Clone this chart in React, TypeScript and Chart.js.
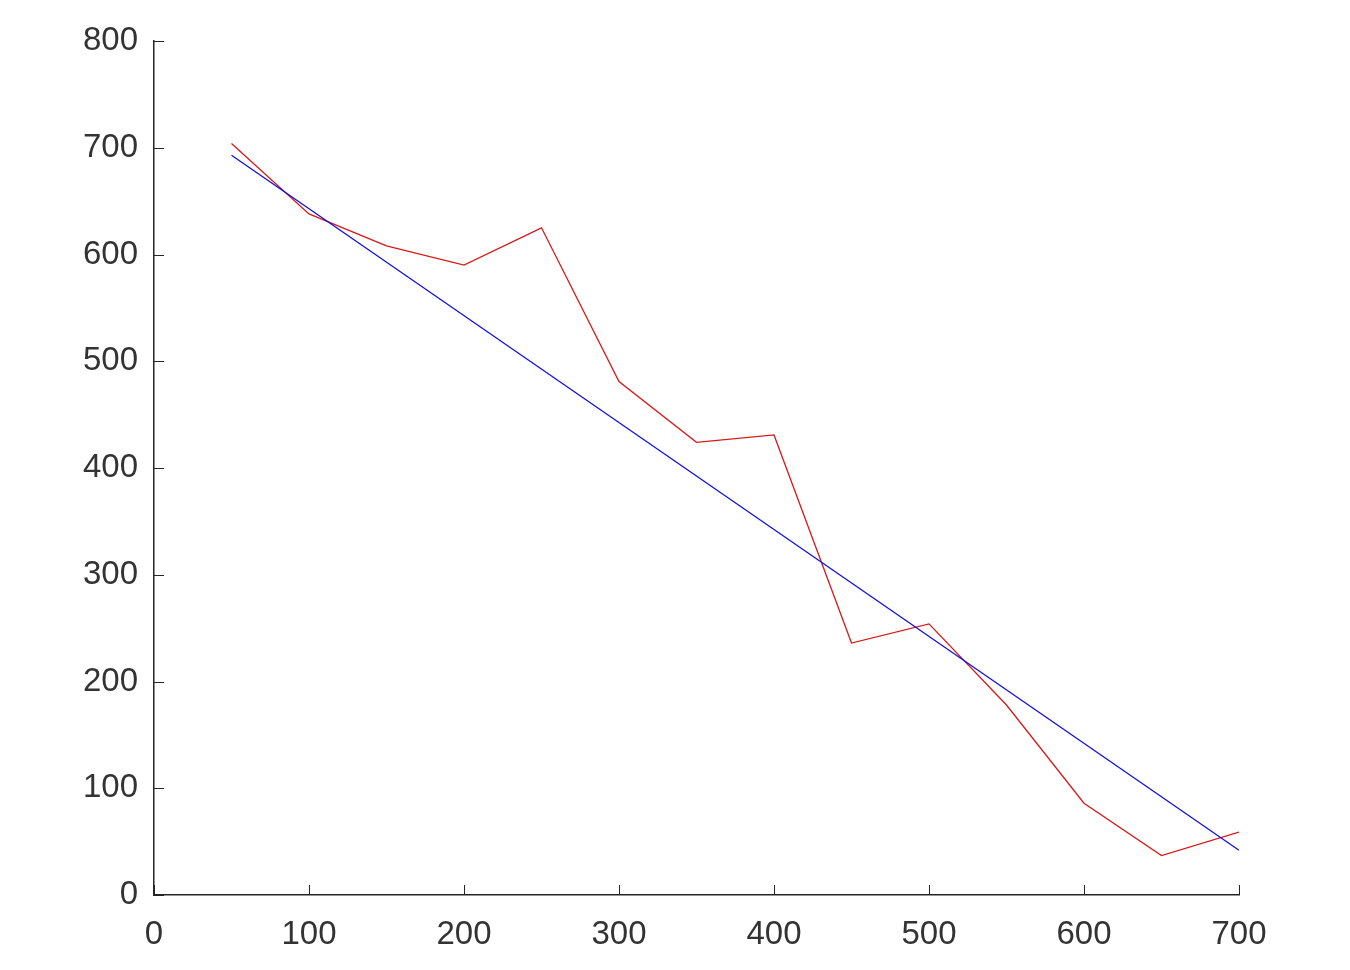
import React, { useEffect, useRef } from "react";
import { Chart, registerables } from "chart.js";

Chart.register(...registerables);

const xValues = [50, 100, 150, 200, 250, 300, 350, 400, 450, 500, 550, 600, 650, 700];
const measured = [704, 638, 608, 590, 625, 481, 424, 431, 236, 254, 178, 86, 37, 59];
const fitX = [50, 700];
const fitY = [693, 42];
const xTicks = [0, 100, 200, 300, 400, 500, 600, 700];
const yTicks = [0, 100, 200, 300, 400, 500, 600, 700, 800];

const AXIS = "#262626";
const LABEL = "#333333";
const FONT = "'Liberation Sans', Arial, Helvetica, sans-serif";

const inwardTicks = {
  id: "inwardTicks",
  afterDraw(chart: any) {
    const { ctx, chartArea, scales } = chart;
    const len = 10;
    ctx.save();
    ctx.strokeStyle = AXIS;
    ctx.lineWidth = 1;
    ctx.beginPath();
    xTicks.forEach((v) => {
      const px = Math.round(scales.x.getPixelForValue(v)) + 0.5;
      ctx.moveTo(px, chartArea.bottom);
      ctx.lineTo(px, chartArea.bottom - len);
    });
    yTicks.forEach((v) => {
      const py = Math.round(scales.y.getPixelForValue(v)) + 0.5;
      ctx.moveTo(chartArea.left, py);
      ctx.lineTo(chartArea.left + len, py);
    });
    ctx.stroke();
    ctx.restore();
  },
};

export default function App() {
  const ref = useRef<HTMLCanvasElement | null>(null);
  useEffect(() => {
    if (!ref.current) return;
    const chart = new Chart(ref.current, {
      type: "line",
      data: {
        datasets: [
          {
            label: "fit",
            data: fitX.map((x, i) => ({ x, y: fitY[i] })),
            borderColor: "#1010e0",
            borderWidth: 1.3,
            pointRadius: 0,
            tension: 0,
          },
          {
            label: "data",
            data: xValues.map((x, i) => ({ x, y: measured[i] })),
            borderColor: "#d81818",
            borderWidth: 1.3,
            pointRadius: 0,
            tension: 0,
          },
        ],
      },
      options: {
        animation: false,
        responsive: false,
        events: [],
        layout: { padding: { left: 0, top: 41, right: 111, bottom: 0 } },
        plugins: { legend: { display: false }, tooltip: { enabled: false } },
        scales: {
          x: {
            type: "linear",
            min: 0,
            max: 700,
            afterBuildTicks: (s: any) => {
              s.ticks = xTicks.map((v) => ({ value: v }));
            },
            afterFit: (s: any) => {
              s.height = 75;
            },
            grid: { display: true, drawOnChartArea: false, drawTicks: false },
            border: { display: true, color: AXIS, width: 1.5 },
            ticks: {
              color: LABEL,
              padding: 20,
              maxRotation: 0,
              autoSkip: false,
              font: { family: FONT, size: 33 },
            },
          },
          y: {
            type: "linear",
            min: 0,
            max: 800,
            afterBuildTicks: (s: any) => {
              s.ticks = yTicks.map((v) => ({ value: v }));
            },
            afterFit: (s: any) => {
              s.width = 154;
            },
            grid: { display: true, drawOnChartArea: false, drawTicks: false },
            border: { display: true, color: AXIS, width: 1.5 },
            ticks: {
              color: LABEL,
              padding: 16,
              autoSkip: false,
              font: { family: FONT, size: 33 },
            },
          },
        },
      },
      plugins: [inwardTicks],
    } as any);
    return () => chart.destroy();
  }, []);
  return (
    <div style={{ position: "fixed", left: 0, top: 0, width: 1350, height: 970, background: "#fff" }}>
      <canvas ref={ref} width={1350} height={970} style={{ width: 1350, height: 970 }} />
    </div>
  );
}
